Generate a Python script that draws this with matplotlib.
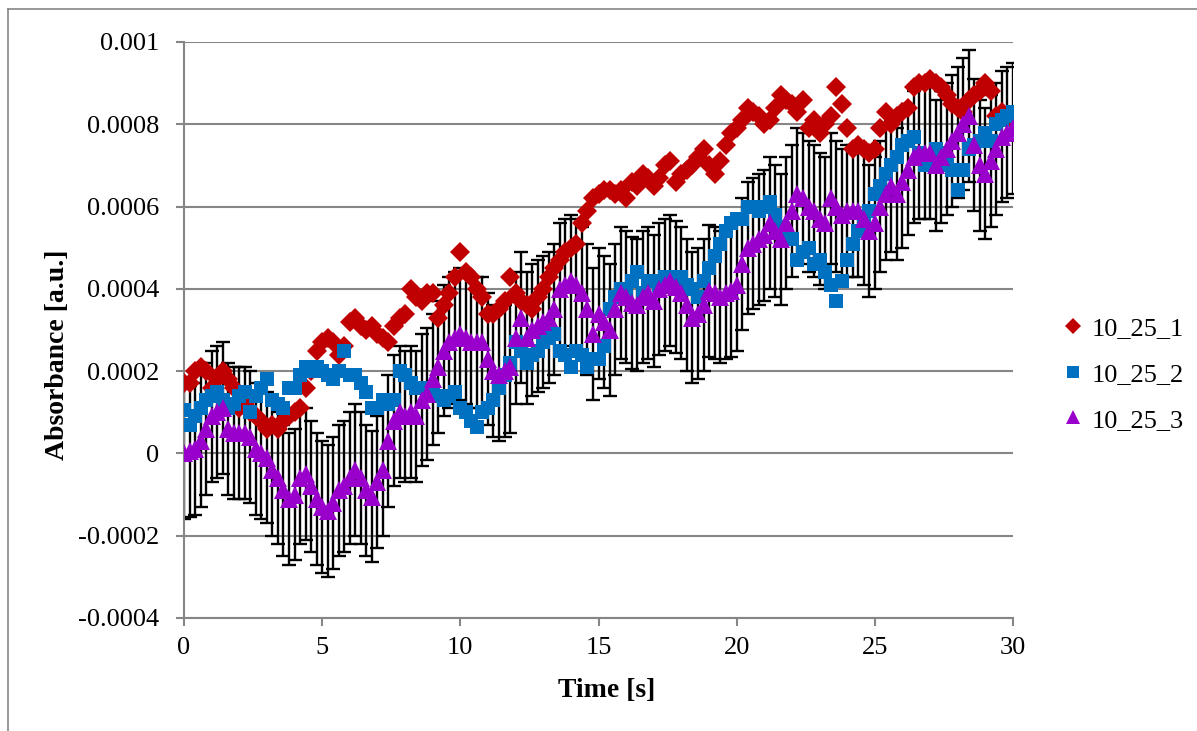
import numpy as np
import matplotlib
matplotlib.use("Agg")
import matplotlib.pyplot as plt
from matplotlib.lines import Line2D

plt.rcParams["font.family"] = ["Liberation Serif", "DejaVu Serif"]

# Datos (absorbancia en unidades de 1e-4)
escala = 1e-4
tiempo = np.round(np.arange(0, 30.01, 0.2), 1)

serie_1 = [
    1.7, 1.7, 2.0, 2.1, 2.0, 1.6, 1.8, 2.0, 1.8, 1.6,
    1.1, 1.2, 1.0, 0.9, 0.8, 0.6, 0.7, 0.6, 0.8, 0.9,
    1.0, 1.1, 1.6, 2.0, 2.5, 2.7, 2.8, 2.7, 2.4, 2.6,
    3.2, 3.3, 3.1, 3.0, 3.1, 2.9, 2.8, 2.7, 3.1, 3.3,
    3.4, 4.0, 3.8, 3.7, 3.9, 3.9, 3.3, 3.6, 3.9, 4.3,
    4.9, 4.4, 4.3, 4.0, 3.8, 3.4, 3.4, 3.5, 3.7, 4.3,
    3.9, 3.7, 3.6, 3.5, 3.8, 4.0, 4.3, 4.5, 4.7, 4.9,
    5.0, 5.1, 5.6, 5.9, 6.2, 6.3, 6.4, 6.4, 6.3, 6.4,
    6.2, 6.6, 6.5, 6.8, 6.7, 6.5, 6.7, 7.0, 7.1, 6.6,
    6.8, 6.9, 7.0, 7.2, 7.4, 7.0, 6.8, 7.1, 7.5, 7.8,
    7.9, 8.1, 8.4, 8.3, 8.2, 8.0, 8.1, 8.4, 8.7, 8.6,
    8.5, 8.3, 8.6, 7.9, 8.1, 7.8, 8.0, 8.2, 8.9, 8.5,
    7.9, 7.4, 7.5, 7.4, 7.3, 7.4, 7.9, 8.3, 8.0, 8.2,
    8.3, 8.4, 8.9, 9.0, 9.0, 9.1, 9.0, 8.9, 8.7, 8.5,
    8.4, 8.3, 8.6, 8.7, 8.8, 9.0, 8.8, 8.2, 8.3, 8.2,
    8.1]

serie_2 = [
    1.05, 0.7, 0.9, 1.1, 1.3, 1.4, 1.5, 1.3, 1.1, 1.2,
    1.4, 1.5, 1.0, 1.4, 1.6, 1.8, 1.3, 1.2, 1.1, 1.6,
    1.6, 1.9, 2.1, 2.0, 2.1, 2.0, 1.9, 1.8, 2.0, 2.5,
    1.9, 1.9, 1.7, 1.5, 1.1, 1.1, 1.3, 1.2, 1.3, 2.0,
    1.9, 1.7, 1.6, 1.6, 1.5, 1.5, 1.4, 1.3, 1.4, 1.5,
    1.1, 1.0, 0.8, 0.65, 1.0, 1.1, 1.3, 1.6, 1.9, 2.2,
    2.7, 2.5, 2.2, 2.4, 2.5, 2.7, 2.8, 2.9, 2.5, 2.4,
    2.1, 2.5, 2.4, 2.1, 2.3, 2.3, 2.6, 3.5, 3.8, 4.0,
    3.9, 4.2, 4.4, 3.9, 4.2, 4.2, 4.1, 4.3, 4.3, 4.2,
    4.3, 4.1, 4.0, 3.8, 4.2, 4.5, 4.8, 5.1, 5.4, 5.6,
    5.7, 5.7, 6.0, 6.0, 5.9, 6.0, 6.1, 5.8, 5.5, 5.3,
    5.2, 4.7, 4.9, 5.0, 4.6, 4.7, 4.4, 4.1, 3.7, 4.2,
    4.7, 5.1, 5.4, 5.6, 5.9, 6.3, 6.5, 6.8, 7.0, 7.2,
    7.5, 7.6, 7.7, 7.3, 7.0, 7.2, 7.4, 7.3, 7.0, 6.9,
    6.4, 6.9, 7.4, 7.5, 7.6, 7.8, 7.6, 8.0, 8.1, 8.2,
    8.3]

serie_3 = [
    0.0, 0.05, 0.1, 0.3, 0.6, 0.9, 1.0, 1.1, 0.6, 0.5,
    0.5, 0.5, 0.4, 0.1, 0.0, -0.1, -0.4, -0.6, -0.9, -1.1,
    -1.0, -0.6, -0.5, -0.8, -1.1, -1.3, -1.4, -1.2, -0.9, -0.8,
    -0.6, -0.4, -0.6, -0.9, -1.05, -0.7, -0.4, 0.3, 0.8, 1.0,
    0.9, 1.0, 0.9, 1.3, 1.45, 1.8, 2.1, 2.5, 2.7, 2.8,
    2.9, 2.8, 2.7, 2.7, 2.7, 2.3, 2.0, 1.9, 2.0, 2.1,
    2.8, 3.3, 2.8, 3.0, 3.1, 3.2, 3.3, 3.5, 4.0, 4.1,
    4.2, 4.1, 3.9, 3.5, 2.9, 3.4, 3.2, 3.0, 3.5, 3.9,
    3.8, 3.65, 3.6, 3.8, 3.9, 3.7, 4.0, 4.1, 4.2, 4.05,
    3.9, 3.6, 3.3, 3.4, 3.6, 3.95, 3.9, 3.8, 3.9, 3.95,
    4.1, 4.6, 5.0, 5.1, 5.2, 5.3, 5.6, 5.4, 5.2, 5.6,
    5.9, 6.3, 6.2, 6.0, 5.9, 5.7, 5.6, 6.2, 6.0, 5.8,
    5.9, 5.9, 5.9, 5.7, 5.4, 5.6, 6.0, 6.3, 6.5, 6.3,
    6.6, 6.9, 7.2, 7.3, 7.3, 7.3, 7.0, 7.2, 7.4, 7.6,
    7.8, 8.0, 8.2, 7.5, 7.0, 6.8, 7.1, 7.4, 7.7, 7.8,
    7.9]

error_3 = 1.6  # barra de error (+/-) de la serie 3

nombres = ["10_25_1", "10_25_2", "10_25_3"]
colores = ["#C00000", "#0070C0", "#9900CC"]
marcadores = ["D", "s", "^"]
tamanos = [10, 10, 12.5]

y_ticks = [-0.0004, -0.0002, 0, 0.0002, 0.0004, 0.0006, 0.0008, 0.001]
y_etiquetas = ["-0.0004", "-0.0002", "0", "0.0002", "0.0004", "0.0006", "0.0008", "0.001"]
x_ticks = [0, 5, 10, 15, 20, 25, 30]

gris = "#868686"

fig = plt.figure(figsize=(11.97, 7.31), dpi=100)
ax = fig.add_axes([184 / 1197, 1 - 618 / 731, (1013 - 184) / 1197, (618 - 42) / 731])

# Barras de error (debajo de los marcadores)
y3 = np.array(serie_3) * escala
ax.errorbar(tiempo, y3, yerr=error_3 * escala, fmt="none", ecolor="black",
            elinewidth=1.7, capsize=5, capthick=1.7, zorder=2)

for datos, nombre, color, marca, tam, z in zip([serie_1, serie_2, serie_3], nombres,
                                              colores, marcadores, tamanos, [3, 4, 5]):
    ax.plot(tiempo, np.array(datos) * escala, linestyle="none", marker=marca,
            markersize=tam, color=color, markeredgewidth=0, label=nombre, zorder=z)

ax.set_xlim(0, 30)
ax.set_ylim(-0.0004, 0.001)
ax.set_xticks(x_ticks)
ax.set_yticks(y_ticks)
ax.set_yticklabels(y_etiquetas)
ax.grid(axis="y", color=gris, linewidth=1.5)
ax.set_axisbelow(True)

for lado in ["top", "right"]:
    ax.spines[lado].set_visible(False)
for lado in ["left", "bottom"]:
    ax.spines[lado].set_color(gris)
    ax.spines[lado].set_linewidth(1.5)
ax.tick_params(axis="both", colors=gris, labelcolor="black", labelsize=19,
               length=6, width=1.5, direction="out")
ax.tick_params(axis="y", pad=12)
ax.tick_params(axis="x", pad=8)

ax.set_xlabel("Time [s]", fontsize=20, fontweight="bold")
ax.set_ylabel("Absorbance [a.u.]", fontsize=20, fontweight="bold")
ax.xaxis.set_label_coords(0.51, -0.105)
ax.yaxis.set_label_coords(-0.138, 0.457)

# Leyenda solo con marcadores
manejadores = [Line2D([], [], linestyle="none", marker=m, color=c, markersize=t * 0.8,
                      markeredgewidth=0) for m, c, t in zip(marcadores, colores, tamanos)]
fig.legend(manejadores, nombres, loc="center left", bbox_to_anchor=(1052 / 1197, 1 - 374 / 731),
           frameon=False, fontsize=19, handlelength=0.8, handletextpad=0.3,
           labelspacing=0.85, borderaxespad=0)

# Marco del grafico
fig.add_artist(Line2D([8 / 1197, 1], [1 - 9 / 731, 1 - 9 / 731], color=gris, linewidth=1.2))
fig.add_artist(Line2D([8 / 1197, 8 / 1197], [0, 1 - 9 / 731], color=gris, linewidth=1.2))

plt.savefig("out.png", dpi=100)
